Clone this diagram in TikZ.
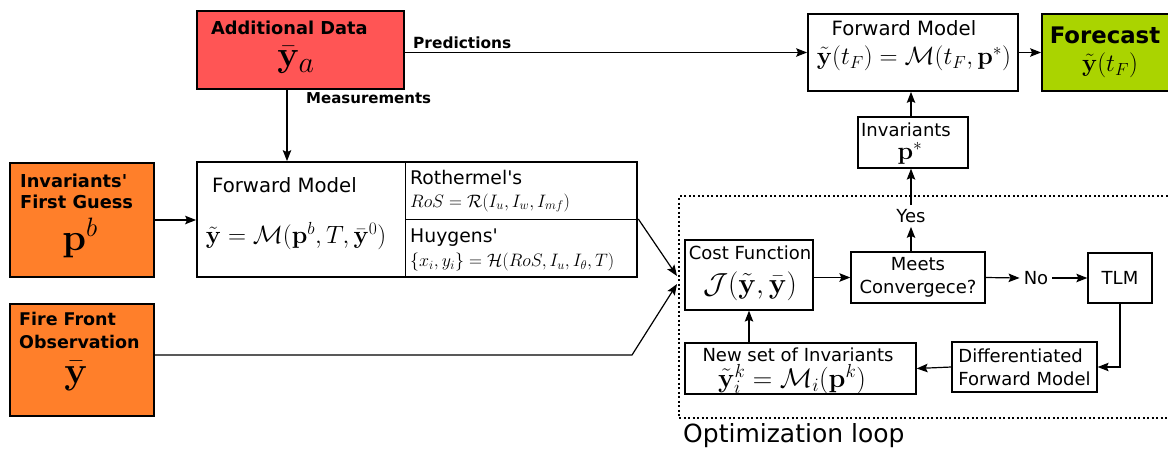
\RequirePackage{fix-cm}
\documentclass[tikz,border=0pt]{standalone}
\usepackage{amsmath,amssymb}
\usepackage[no-math]{fontspec}
\setmainfont{DejaVu Sans}
\usetikzlibrary{arrows.meta}
\definecolor{datared}{HTML}{FF5555}
\definecolor{dataorange}{HTML}{FF7F2A}
\definecolor{fcgreen}{HTML}{AAD400}
\tikzset{
  arr/.style={-{Stealth[length=11pt,width=8.5pt,inset=2pt]}, line width=1.2pt},
  heavy box/.style={draw, line width=1.8pt, inner sep=0pt},
  light box/.style={draw, line width=1.3pt, inner sep=0pt},
  lbl/.style={font=\fontsize{18}{23}\selectfont, inner sep=0pt},
  title lbl/.style={font=\fontsize{19.7}{24}\selectfont, inner sep=0pt},
  bold lbl/.style={font=\bfseries\fontsize{17.8}{21}\selectfont, inner sep=0pt},
  big math/.style={font=\fontsize{25}{30}\selectfont, inner sep=0pt},
  small math/.style={font=\fontsize{18}{22}\selectfont, inner sep=0pt},
}

\begin{document}
\begin{tikzpicture}[x=1pt,y=-1pt]
  \useasboundingbox (0,0) rectangle (1168,448);

  % Data sources
  \node[heavy box, fill=datared, minimum width=207pt, minimum height=78pt] (add) at (300.5,50) {};
  \node[bold lbl, anchor=west] (addhead) at (211,28) {Additional Data};
  \node[big math, font=\fontsize{36}{40}\selectfont] (addsym) at (296,60) {$\bar{\mathbf{y}}_{\hbox{\fontsize{30}{30}\selectfont$a$}}$};

  \node[heavy box, fill=dataorange, minimum width=144pt, minimum height=114pt] (guess) at (82,220) {};
  \node[bold lbl, anchor=north west, align=left] (guesshead) at (20,174) {Invariants\textquotesingle\\First Guess};
  \node[big math, font=\fontsize{38}{40}\selectfont] (guesssym) at (80,238) {$\mathbf{p}^b$};

  \node[heavy box, fill=dataorange, minimum width=144pt, minimum height=112pt] (obs) at (82,360) {};
  \node[bold lbl, font=\bfseries\fontsize{17.5}{22.5}\selectfont, anchor=north west, align=left] (obshead) at (19,312) {Fire Front\\Observation};
  \node[big math, font=\fontsize{38}{40}\selectfont] (obssym) at (76,376) {$\bar{\mathbf{y}}$};

  % Forward model with its two sub-models
  \node[heavy box, minimum width=440pt, minimum height=115pt] (fwd) at (417,219.5) {};
  \node[light box, anchor=north west, minimum width=232pt, minimum height=57pt] (roth) at (405,162) {};
  \node[light box, anchor=north west, minimum width=232pt, minimum height=58pt] (huyg) at (405,219) {};
  \node[title lbl, anchor=west] (fwdtitle) at (212,185) {Forward Model};
  \node[big math] (fwdeq) at (296,236) {$\tilde{\mathbf{y}} = \mathcal{M}(\mathbf{p}^b, T, \bar{\mathbf{y}}^0)$};
  \node[lbl, font=\fontsize{18.8}{22}\selectfont, anchor=west] (rothtitle) at (410,177) {Rothermel\textquotesingle s};
  \node[small math, anchor=west] (rotheq) at (410,203) {$RoS = \mathcal{R}(I_u, I_w, I_{mf})$};
  \node[lbl, font=\fontsize{18.8}{22}\selectfont, anchor=west] (huygtitle) at (410,238) {Huygens\textquotesingle};
  \node[small math, anchor=west] (huygeq) at (410,262) {$\{x_i, y_i\} = \mathcal{H}(RoS, I_u, I_\theta, T)$};

  % Optimization loop
  \node[draw, line width=2pt, dash pattern=on 2pt off 2.5pt, minimum width=500pt, minimum height=222pt, anchor=north west] (loop) at (678,195) {};
  \node[lbl, font=\fontsize{25}{28}\selectfont, anchor=west] (looplbl) at (683,436) {Optimization loop};

  \node[light box, minimum width=128pt, minimum height=70pt] (cost) at (749,275) {};
  \node[lbl] (costtitle) at (750,253) {Cost Function};
  \node[big math, font=\fontsize{29}{32}\selectfont] (costeq) at (750,286) {$\mathcal{J}(\tilde{\mathbf{y}},\bar{\mathbf{y}})$};

  \node[light box, lbl, align=center, minimum width=134pt, minimum height=51pt] (conv) at (918,277.5) {Meets\\Convergece?};
  \node[lbl, inner sep=4pt] (no) at (1036,278) {No};
  \node[light box, lbl, minimum width=64pt, minimum height=50pt] (tlm) at (1120,278) {TLM};
  \node[light box, lbl, align=left, minimum width=145pt, minimum height=50pt] (diff) at (1024.5,367) {Differentiated\\Forward Model};

  \node[light box, minimum width=231pt, minimum height=51pt] (newinv) at (800.5,368.5) {};
  \node[lbl] (newinvtitle) at (798,355) {New set of Invariants};
  \node[big math, font=\fontsize{27}{30}\selectfont] (newinveq) at (792,379) {$\tilde{\mathbf{y}}_i^k = \mathcal{M}_i(\mathbf{p}^k)$};

  \node[lbl, inner sep=4pt] (yes) at (911,216) {Yes};

  % Forecast branch
  \node[light box, minimum width=110pt, minimum height=51pt] (pstar) at (913,142.5) {};
  \node[lbl] (pstartitle) at (906,130) {Invariants};
  \node[big math] (pstarsym) at (910,153) {$\mathbf{p}^*$};

  \node[heavy box, minimum width=210pt, minimum height=77pt] (fwdtop) at (913,52.5) {};
  \node[title lbl] (fwdtoptitle) at (904,28) {Forward Model};
  \node[big math] (fwdtopeq) at (914,58) {$\tilde{\mathbf{y}}(t_F) = \mathcal{M}(t_F, \mathbf{p}^*)$};

  \node[heavy box, fill=fcgreen, minimum width=130pt, minimum height=77pt] (fcast) at (1107,52.5) {};
  \node[bold lbl, font=\bfseries\fontsize{22.8}{26}\selectfont] (fcasttitle) at (1105,35) {Forecast};
  \node[big math] (fcastsym) at (1110,65) {$\tilde{\mathbf{y}}(t_F)$};

  % Connectors
  \coordinate (bend) at (632,355);
  \coordinate (in1) at (677,276);
  \coordinate (in2) at (677,284);

  \draw[arr] (fwdtop.west -| add.east) -- (fwdtop.west);
  \node[bold lbl, font=\bfseries\fontsize{15.4}{18}\selectfont, anchor=west] (predlbl) at (413,43) {Predictions};
  \draw[arr] ([xshift=-13.5pt]add.south) -- ([xshift=-13.5pt]add.south |- fwd.north);
  \node[bold lbl, font=\bfseries\fontsize{15}{18}\selectfont, anchor=west] (measlbl) at (306,98) {Measurements};
  \draw[arr] (guess.east) -- (guess.east -| fwd.west);
  \draw[arr] (huyg.north east) -- (in1);
  \draw[arr] ([yshift=5pt]obs.east) -- (bend) -- (in2);

  \draw[arr] (cost.east |- conv.west) -- (conv.west);
  \draw[arr] (conv.east) -- (no.west);
  \draw[arr] (no.east) -- (tlm.west);
  \draw[arr] (tlm.south) |- (diff.east);
  \draw[arr] (diff.west) -- (newinv.east);
  \draw[arr] (newinv.north -| cost.south) -- (cost.south);
  \draw[arr] (conv.north -| yes) -- (yes.south);
  \draw[arr] (yes.north) -- (yes.north |- pstar.south);
  \draw[arr] (yes |- pstar.north) -- (yes |- fwdtop.south);
  \draw[arr] (fwdtop.east) -- (fcast.west);
\end{tikzpicture}
\end{document}
